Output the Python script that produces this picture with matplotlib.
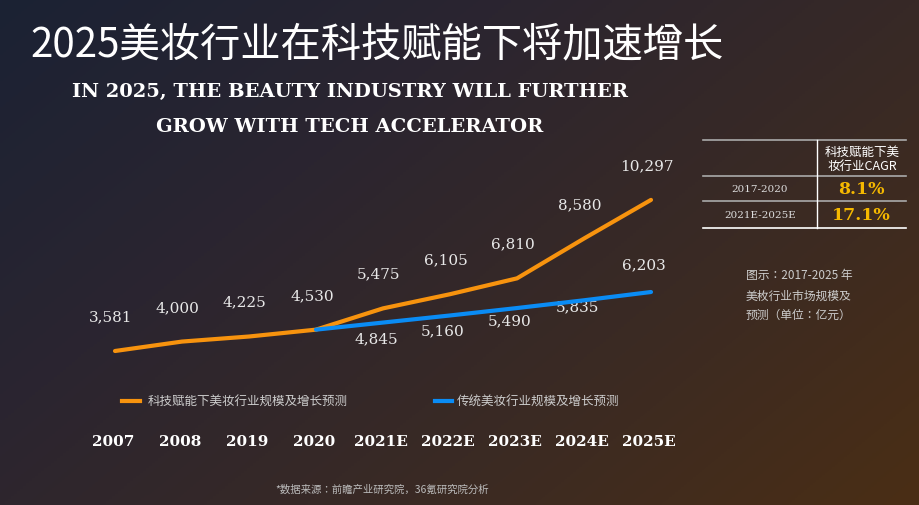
import matplotlib.pyplot as plt
import numpy as np
from matplotlib.colors import LinearSegmentedColormap
from matplotlib import font_manager

years = ["2007", "2008", "2019", "2020", "2021E", "2022E", "2023E", "2024E", "2025E"]
tech = [3581, 4000, 4225, 4530, 5475, 6105, 6810, 8580, 10297]
trad_years = ["2020", "2021E", "2022E", "2023E", "2024E", "2025E"]
trad = [4530, 4845, 5160, 5490, 5835, 6203]
cagr_periods = ["2017-2020", "2021E-2025E"]
cagr_values = ["8.1%", "17.1%"]

names = {f.name for f in font_manager.fontManager.ttflist}
CJK = [n for n in ["Noto Sans CJK SC", "Noto Sans CJK JP", "Noto Sans CJK TC",
                   "Noto Sans CJK KR", "Noto Sans SC"] if n in names] + ["DejaVu Sans"]
SERIF = "DejaVu Serif"
ORANGE = "#f7930e"
BLUE = "#0a8cf5"
W, H = 920, 506

fig = plt.figure(figsize=(9.2, 5.06), dpi=100)

# gradient background
bg = fig.add_axes([0, 0, 1, 1])
yy, xx = np.mgrid[0:1:200j, 0:1:300j]
t = (xx * 0.6 + yy * 0.4)
cmap = LinearSegmentedColormap.from_list("bg", ["#1b2234", "#2b2530", "#3a2a24", "#4a2e15"])
bg.imshow(t, cmap=cmap, extent=[0, 1, 0, 1], aspect="auto", origin="upper")
bg.axis("off")

ax = fig.add_axes([0, 0, 1, 1])
ax.patch.set_alpha(0)
ax.axis("off")
x0, dx = 115, 67
ky = 0.0225
ax.set_xlim(-x0 / dx, (W - x0) / dx)
ax.set_ylim(3581 - (H - 352) / ky, 3581 + 352 / ky)

xi = {y: i for i, y in enumerate(years)}
ax.plot(range(len(years)), tech, color=ORANGE, lw=3, solid_capstyle="round", zorder=3)
ax.plot([xi[y] for y in trad_years], trad, color=BLUE, lw=3, solid_capstyle="round", zorder=4)

for i, v in enumerate(tech):
    ax.annotate(f"{v:,}", (i, v), xytext=(-3, 25), textcoords="offset points",
                ha="center", va="center", color="#e8e8e8", fontsize=11, family=SERIF)
blue_off = [None, -11, -11, -9, -4, 20]
for y, v, o in zip(trad_years, trad, blue_off):
    if o is None:
        continue
    ax.annotate(f"{v:,}", (xi[y], v), xytext=(-5, o), textcoords="offset points",
                ha="center", va="center", color="#e8e8e8", fontsize=11, family=SERIF)

for i, y in enumerate(years):
    ax.text(i - 0.03, 3581 - (442 - 352) / ky, y, ha="center", va="center",
            color="white", fontsize=11, fontweight="bold", family=SERIF)


def fx(px):
    return px / W


def fy(py):
    return 1 - py / H


fig.text(fx(30), fy(45), "2025美妆行业在科技赋能下将加速增长", family=CJK, fontsize=29,
         color="white", va="center")
fig.text(fx(350), fy(92), "IN 2025, THE BEAUTY INDUSTRY WILL FURTHER", family=SERIF,
         fontsize=14, fontweight="bold", color="white", ha="center", va="center")
fig.text(fx(350), fy(127), "GROW WITH TECH ACCELERATOR", family=SERIF,
         fontsize=14, fontweight="bold", color="white", ha="center", va="center")

# legend
fig.add_artist(plt.Line2D([fx(122), fx(140)], [fy(402), fy(402)], color=ORANGE, lw=3))
fig.text(fx(148), fy(402), "科技赋能下美妆行业规模及增长预测", family=CJK, fontsize=9,
         color="#cccccc", va="center")
fig.add_artist(plt.Line2D([fx(435), fx(452)], [fy(402), fy(402)], color=BLUE, lw=3))
fig.text(fx(457), fy(402), "传统美妆行业规模及增长预测", family=CJK, fontsize=9,
         color="#cccccc", va="center")

fig.text(fx(382), fy(490), "*数据来源：前瞻产业研究院，36氪研究院分析", family=CJK, fontsize=7.5,
         color="#bbbbbb", ha="center", va="center")

# CAGR table
for py, c in [(141, "#aaaaaa"), (177, "#aaaaaa"), (202, "#aaaaaa"), (229, "white")]:
    fig.add_artist(plt.Line2D([fx(703), fx(906)], [fy(py), fy(py)], color=c, lw=1.2))
fig.add_artist(plt.Line2D([fx(817), fx(817)], [fy(141), fy(229)], color="white", lw=1))
fig.text(fx(862), fy(152), "科技赋能下美", family=CJK, fontsize=9, color="white",
         ha="center", va="center")
fig.text(fx(862), fy(166), "妆行业CAGR", family=CJK, fontsize=9, color="white",
         ha="center", va="center")
for py, p, v in zip([190, 216], cagr_periods, cagr_values):
    fig.text(fx(760), fy(py), p, family=SERIF, fontsize=7.5, color="#dddddd",
             ha="center", va="center")
    fig.text(fx(861), fy(py), v, family=SERIF, fontsize=12.5, fontweight="bold",
             color="#f5b800", ha="center", va="center")

for py, s in [(276, "图示：2017-2025 年"), (296, "美枚行业市场规模及"), (315, "预测（单位：亿元）")]:
    fig.text(fx(746), fy(py), s, family=CJK, fontsize=8.5, color="#cccccc", va="center")

fig.savefig("out.png", dpi=100)
